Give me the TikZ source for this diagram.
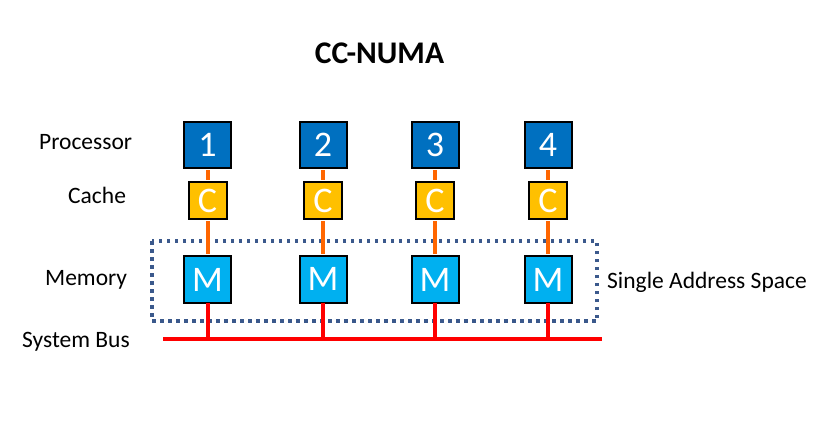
\documentclass[tikz,border=0pt]{standalone}
\usepackage{fontspec}
\setmainfont{Carlito}
\usepackage{tikz}
\definecolor{procblue}{RGB}{0,112,192}
\definecolor{cacheyellow}{RGB}{255,192,0}
\definecolor{memblue}{RGB}{0,176,240}
\definecolor{linkorange}{RGB}{255,102,0}
\definecolor{spaceblue}{RGB}{59,89,140}
\tikzset{
	proc/.style={draw=black,line width=2pt,fill=procblue,text=white,minimum width=47pt,minimum height=46pt,inner sep=0pt,font=\fontsize{36}{36}\selectfont},
	cache/.style={draw=black,line width=2pt,fill=cacheyellow,text=white,minimum width=38pt,minimum height=37pt,inner sep=0pt,font=\fontsize{36}{36}\selectfont},
	mem/.style={draw=black,line width=2pt,fill=memblue,text=white,minimum width=47pt,minimum height=47pt,inner sep=0pt,font=\fontsize{36}{36}\selectfont},
	lbl/.style={anchor=base west,inner sep=0pt,font=\fontsize{23.5}{24}\selectfont},
	link/.style={draw=linkorange,line width=4pt,shorten <=1pt,shorten >=1pt},
	drop/.style={draw=red,line width=4pt}
}

\begin{document}
\begin{tikzpicture}[x=1pt,y=-1pt]
	\useasboundingbox (0,0) rectangle (823,421);

	\node [anchor=base,inner sep=0pt,font=\fontsize{31.5}{32}\selectfont\bfseries] (0) at (379.5, 63) {CC-NUMA};
	% row labels
	\node [lbl] (1) at (39, 149) {Processor};
	\node [lbl] (2) at (68, 203) {Cache};
	\node [lbl] (3) at (45, 285) {Memory};
	\node [lbl] (4) at (22, 347) {System Bus};
	\node [lbl] (5) at (607, 288) {Single Address Space};
	% address space
	\draw [spaceblue,line width=3.5pt,dash pattern=on 3.5pt off 4.5pt] (152, 241) rectangle (597, 321);
	% bus ends
	\coordinate (b1) at (207.5, 339);
	\coordinate (b2) at (323, 339);
	\coordinate (b3) at (435, 339);
	\coordinate (b4) at (548, 339);
	\coordinate (bl) at (163, 339);
	\coordinate (br) at (602, 339);
	% boxes
	\node [proc] (11) at (207.5, 145) {1};
	\node [proc] (12) at (323, 145) {2};
	\node [proc] (13) at (435, 145) {3};
	\node [proc] (14) at (548, 145) {4};
	\node [cache] (21) at (207.5, 200.5) {C};
	\node [cache] (22) at (323, 200.5) {C};
	\node [cache] (23) at (435, 200.5) {C};
	\node [cache] (24) at (548, 200.5) {C};
	\node [mem] (31) at (207.5, 279.5) {M};
	\node [mem] (32) at (323, 279) {M};
	\node [mem] (33) at (435, 279.5) {M};
	\node [mem] (34) at (548, 279.5) {M};
	% links
	\draw [link] (11.south) to (21.north);
	\draw [link] (12.south) to (22.north);
	\draw [link] (13.south) to (23.north);
	\draw [link] (14.south) to (24.north);
	\draw [link] (21.south) to (31.north);
	\draw [link] (22.south) to (32.north);
	\draw [link] (23.south) to (33.north);
	\draw [link] (24.south) to (34.north);
	% bus
	\draw [drop] ([yshift=1pt]31.south) to (b1);
	\draw [drop] ([yshift=1pt]32.south) to (b2);
	\draw [drop] ([yshift=1pt]33.south) to (b3);
	\draw [drop] ([yshift=1pt]34.south) to (b4);
	\draw [drop] (bl) to (br);
\end{tikzpicture}
\end{document}
